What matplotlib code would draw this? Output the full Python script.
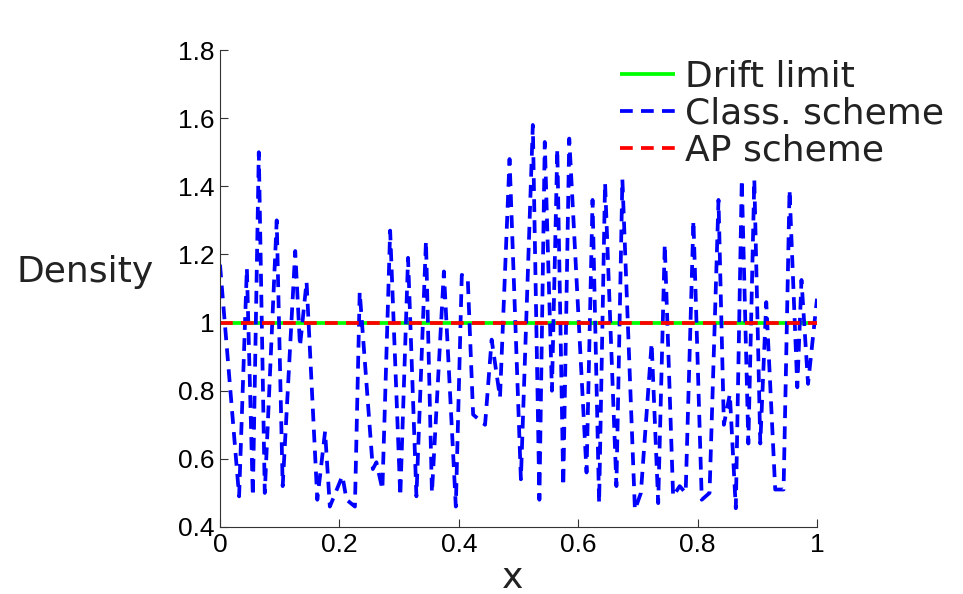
import matplotlib
matplotlib.use("Agg")
import matplotlib.pyplot as plt

# Data
x_class = [0.0, 0.032, 0.045, 0.055, 0.065, 0.075, 0.095, 0.105, 0.126, 0.134,
           0.145, 0.163, 0.176, 0.184, 0.205, 0.212, 0.226, 0.234, 0.256, 0.262,
           0.272, 0.285, 0.302, 0.315, 0.329, 0.345, 0.355, 0.375, 0.395, 0.405,
           0.415, 0.424, 0.444, 0.455, 0.469, 0.485, 0.504, 0.524, 0.535, 0.544,
           0.556, 0.565, 0.575, 0.585, 0.614, 0.624, 0.635, 0.645, 0.664, 0.674,
           0.695, 0.705, 0.723, 0.734, 0.745, 0.759, 0.770, 0.780, 0.793, 0.807,
           0.820, 0.835, 0.844, 0.854, 0.864, 0.874, 0.885, 0.895, 0.905, 0.915,
           0.930, 0.944, 0.954, 0.967, 0.974, 0.985, 1.0]
y_class = [1.17, 0.49, 1.16, 0.49, 1.50, 0.50, 1.30, 0.52, 1.21, 0.93,
           1.12, 0.48, 0.68, 0.46, 0.55, 0.48, 0.46, 1.09, 0.57, 0.59,
           0.51, 1.27, 0.49, 1.19, 0.49, 1.24, 0.50, 1.15, 0.46, 1.14,
           1.13, 0.73, 0.70, 0.95, 0.78, 1.48, 0.54, 1.58, 0.48, 1.53,
           0.80, 1.51, 0.52, 1.54, 0.56, 1.36, 0.47, 1.41, 0.52, 1.42,
           0.45, 0.50, 0.94, 0.47, 1.23, 0.49, 0.52, 0.50, 1.30, 0.48,
           0.50, 1.36, 0.70, 0.79, 0.455, 1.42, 0.645, 1.42, 0.645, 1.06,
           0.51, 0.51, 1.39, 0.81, 1.125, 0.82, 1.07]
x_limit = [0.0, 1.0]
y_limit = [1.0, 1.0]
x_ap = [0.0, 1.0]
y_ap = [1.0, 1.0]

xticks = [0, 0.2, 0.4, 0.6, 0.8, 1]
xticklabels = ["0", "0.2", "0.4", "0.6", "0.8", "1"]
yticks = [0.4, 0.6, 0.8, 1.0, 1.2, 1.4, 1.6, 1.8]
yticklabels = ["0.4", "0.6", "0.8", "1", "1.2", "1.4", "1.6", "1.8"]
labels = ["Drift limit", "Class. scheme", "AP scheme"]

W, H = 963, 594
fig = plt.figure(figsize=(W / 100, H / 100), dpi=100)
ax = fig.add_axes([220 / W, 1 - 527 / H, (817 - 220) / W, (527 - 50) / H])

lw = 2.7
l1, = ax.plot(x_limit, y_limit, color="#00ff00", lw=lw, solid_capstyle="butt")
l2, = ax.plot(x_class, y_class, color="#0000ff", lw=lw, dashes=(3.4, 2.2))
l3, = ax.plot(x_ap, y_ap, color="#ff0000", lw=lw, dashes=(3.4, 2.2))

ax.set_xlim(0, 1)
ax.set_ylim(0.4, 1.8)
ax.set_xticks(xticks)
ax.set_xticklabels(xticklabels)
ax.set_yticks(yticks)
ax.set_yticklabels(yticklabels)
for s in ["top", "right"]:
    ax.spines[s].set_visible(False)
for s in ["left", "bottom"]:
    ax.spines[s].set_linewidth(0.8)
    ax.spines[s].set_color("#333333")
ax.tick_params(direction="in", length=6, width=0.8, colors="#333333",
               labelcolor="black", labelsize=19, pad=4)
for t in ax.get_xticklabels() + ax.get_yticklabels():
    t.set_family("Liberation Sans")

fig.text(85 / W, 1 - 272 / H, "Density", family="DejaVu Sans", fontsize=26,
         ha="center", va="center", color="#222222")
fig.text(513 / W, 1 - 578 / H, "x", family="DejaVu Sans", fontsize=26,
         ha="center", va="center", color="#222222")

leg = fig.legend([l1, l2, l3], labels, loc="upper left",
                 bbox_to_anchor=(620 / W, 1 - 60 / H), frameon=False,
                 prop={"family": "DejaVu Sans", "size": 26}, handlelength=1.52,
                 handletextpad=0.27, labelspacing=0.08, borderaxespad=0,
                 borderpad=0)
for t in leg.get_texts():
    t.set_color("#222222")

fig.savefig("out.png", dpi=100)
